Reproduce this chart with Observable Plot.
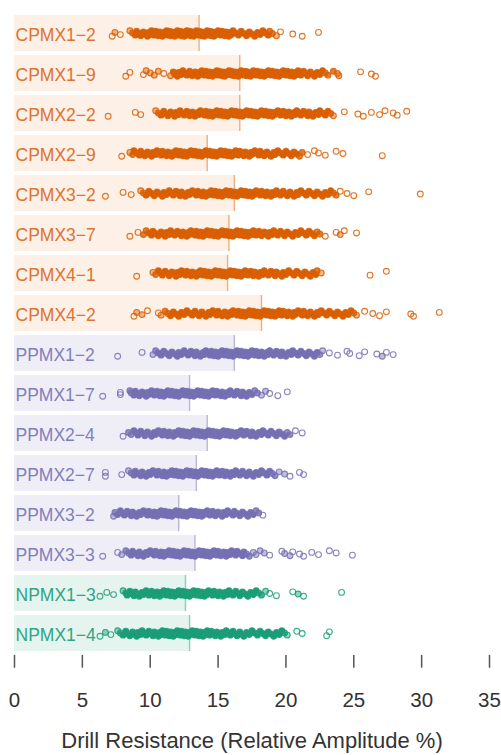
<!DOCTYPE html>
<html>
<head>
<meta charset="utf-8">
<script src="https://cdn.jsdelivr.net/npm/d3@7"></script>
<script src="https://cdn.jsdelivr.net/npm/@observablehq/plot@0.6"></script>
<style>
  html, body { margin: 0; padding: 0; background: #fff; }
  #chart { width: 501px; height: 755px; }
</style>
</head>
<body>
<div id="chart"></div>
<script>
// Specimens, top to bottom
const specimens = [
  "CPMX1−2", "CPMX1−9", "CPMX2−2", "CPMX2−9", "CPMX3−2", "CPMX3−7", "CPMX4−1", "CPMX4−2",
  "PPMX1−2", "PPMX1−7", "PPMX2−4", "PPMX2−7", "PPMX3−2", "PPMX3−3", "NPMX1−3", "NPMX1−4"
];

// Mean drill resistance per specimen (%)
const means = [13.6, 16.6, 16.6, 14.2, 16.2, 15.8, 15.7, 18.2, 16.2, 12.9, 14.2, 13.4, 12.1, 13.3, 12.6, 12.9];

// Group of each specimen prefix
const groups = ["CPMX", "PPMX", "NPMX"];
const groupColors = ["#d95f02", "#7570b3", "#1b9e77"];
const labelColors = ["#dd7330", "#827ebb", "#2ea584"];
const bandColors = ["#fdf0e6", "#efeef7", "#e6f4ef"];

// Drill resistance readings (relative amplitude %)
const CPMX1_2 = [7.2, 7.4, 7.8,
  8.5, 8.7, 8.9, 9.0, 9.2, 9.3, 9.5, 9.6, 9.8, 9.9, 10.0, 10.1, 10.2, 10.3, 10.4, 10.5, 10.6, 10.7, 10.8, 10.9, 11.0, 11.1, 11.2, 11.2, 11.3, 11.4, 11.5, 11.5, 11.6, 11.7, 11.8, 11.8, 11.9, 12.0, 12.0, 12.1, 12.2, 12.2, 12.3, 12.4, 12.4, 12.5, 12.6, 12.6, 12.7, 12.8, 12.8, 12.9, 13.0, 13.0, 13.1, 13.2, 13.2, 13.3, 13.4, 13.4, 13.5, 13.6, 13.6, 13.7, 13.8, 13.8, 13.9, 14.0, 14.0, 14.1, 14.2, 14.2, 14.3, 14.4, 14.4, 14.5, 14.6, 14.6, 14.7, 14.8, 14.9, 15.0, 15.1, 15.2, 15.3, 15.4, 15.5, 15.6, 15.7, 15.8, 15.9, 16.0, 16.1, 16.3, 16.5, 16.7, 16.9, 17.1, 17.3, 17.5, 17.7, 17.9, 18.1, 18.3, 18.5, 18.7, 18.8,
  19.0, 19.3, 19.6, 20.5, 21.2, 22.4];
const CPMX1_9 = [8.2, 8.5, 9.5, 9.7, 10.0, 10.3, 10.6, 11.0,
  11.5, 11.7, 11.8, 12.0, 12.1, 12.3, 12.4, 12.6, 12.7, 12.9, 13.0, 13.1, 13.3, 13.4, 13.5, 13.6, 13.7, 13.8, 13.9, 14.0, 14.1, 14.2, 14.3, 14.4, 14.5, 14.6, 14.7, 14.8, 14.9, 15.0, 15.0, 15.1, 15.2, 15.3, 15.4, 15.5, 15.5, 15.6, 15.7, 15.8, 15.9, 16.0, 16.0, 16.1, 16.2, 16.3, 16.4, 16.5, 16.5, 16.6, 16.7, 16.8, 16.9, 17.0, 17.0, 17.1, 17.2, 17.3, 17.4, 17.5, 17.5, 17.6, 17.7, 17.8, 17.9, 18.0, 18.1, 18.2, 18.3, 18.4, 18.5, 18.6, 18.7, 18.8, 18.9, 19.0, 19.1, 19.2, 19.3, 19.4, 19.5, 19.6, 19.7, 19.8, 19.9, 20.0, 20.1, 20.2, 20.3, 20.4, 20.5, 20.6, 20.7, 20.8, 20.9, 21.0, 21.1, 21.3, 21.5, 21.6, 21.8, 22.0, 22.1, 22.3, 22.5, 22.7, 22.9, 23.1,
  23.5, 23.8, 23.9, 25.5, 26.3, 26.6];
const CPMX2_2 = [6.9, 8.9, 9.3,
  10.4, 10.6, 10.8, 11.0, 11.1, 11.3, 11.5, 11.6, 11.8, 11.9, 12.1, 12.2, 12.4, 12.5, 12.7, 12.8, 12.9, 13.1, 13.2, 13.3, 13.5, 13.6, 13.7, 13.8, 14.0, 14.1, 14.2, 14.3, 14.4, 14.5, 14.6, 14.7, 14.8, 14.9, 15.0, 15.1, 15.2, 15.3, 15.4, 15.5, 15.6, 15.7, 15.8, 15.9, 16.0, 16.1, 16.2, 16.3, 16.4, 16.5, 16.6, 16.7, 16.8, 16.9, 17.0, 17.1, 17.2, 17.3, 17.4, 17.5, 17.6, 17.7, 17.8, 17.9, 18.0, 18.1, 18.2, 18.3, 18.4, 18.5, 18.6, 18.7, 18.8, 18.9, 19.0, 19.1, 19.2, 19.4, 19.5, 19.6, 19.8, 19.9, 20.0, 20.2, 20.3, 20.4, 20.6, 20.7, 20.8, 21.0, 21.1, 21.3, 21.4, 21.6, 21.7, 21.9, 22.0, 22.2, 22.4, 22.5, 22.7, 22.9, 23.1, 23.3, 23.5,
  24.3, 25.3, 25.7, 26.3, 26.9, 27.3, 27.9, 28.2, 28.9];
const CPMX2_9 = [7.9,
  8.5, 8.7, 8.8, 9.0, 9.2, 9.3, 9.5, 9.6, 9.8, 9.9, 10.1, 10.2, 10.4, 10.5, 10.7, 10.8, 10.9, 11.1, 11.2, 11.3, 11.5, 11.6, 11.7, 11.8, 11.9, 12.0, 12.1, 12.2, 12.3, 12.4, 12.5, 12.6, 12.7, 12.8, 12.9, 13.0, 13.1, 13.2, 13.3, 13.4, 13.5, 13.6, 13.7, 13.8, 13.9, 14.0, 14.1, 14.2, 14.3, 14.4, 14.5, 14.6, 14.7, 14.8, 14.9, 15.0, 15.1, 15.2, 15.3, 15.4, 15.5, 15.6, 15.7, 15.8, 15.9, 16.0, 16.1, 16.2, 16.3, 16.4, 16.5, 16.6, 16.7, 16.9, 17.0, 17.1, 17.3, 17.4, 17.5, 17.7, 17.8, 18.0, 18.1, 18.3, 18.4, 18.6, 18.7, 18.9, 19.1, 19.2, 19.4, 19.6, 19.8, 20.0, 20.2, 20.4, 20.6, 20.8, 21.0, 21.2,
  21.6, 22.1, 22.4, 22.9, 23.7, 24.2, 27.1];
const CPMX3_2 = [6.7, 8.0, 8.6,
  9.3, 9.5, 9.7, 9.9, 10.1, 10.3, 10.5, 10.7, 10.9, 11.0, 11.2, 11.4, 11.5, 11.7, 11.9, 12.0, 12.2, 12.3, 12.5, 12.6, 12.8, 12.9, 13.1, 13.2, 13.4, 13.5, 13.6, 13.8, 13.9, 14.0, 14.1, 14.3, 14.4, 14.5, 14.6, 14.7, 14.8, 14.9, 15.0, 15.1, 15.2, 15.3, 15.4, 15.5, 15.6, 15.7, 15.8, 15.9, 16.0, 16.1, 16.2, 16.3, 16.4, 16.5, 16.6, 16.7, 16.8, 16.9, 17.0, 17.1, 17.2, 17.3, 17.4, 17.5, 17.6, 17.7, 17.8, 17.9, 18.1, 18.2, 18.3, 18.5, 18.6, 18.7, 18.9, 19.0, 19.2, 19.3, 19.5, 19.6, 19.8, 19.9, 20.1, 20.3, 20.4, 20.6, 20.8, 20.9, 21.1, 21.3, 21.5, 21.7, 21.9, 22.1, 22.3, 22.5, 22.7, 22.9, 23.1, 23.3, 23.5, 23.7,
  24.0, 24.5, 25.0, 26.1, 29.9];
const CPMX3_7 = [8.5, 9.1,
  9.5, 9.7, 9.9, 10.1, 10.2, 10.4, 10.6, 10.8, 10.9, 11.1, 11.2, 11.4, 11.5, 11.7, 11.8, 12.0, 12.1, 12.3, 12.4, 12.5, 12.7, 12.8, 12.9, 13.0, 13.2, 13.3, 13.4, 13.5, 13.6, 13.7, 13.8, 13.9, 14.0, 14.1, 14.2, 14.3, 14.4, 14.5, 14.6, 14.7, 14.8, 14.9, 15.0, 15.1, 15.2, 15.3, 15.4, 15.5, 15.6, 15.7, 15.8, 15.9, 16.0, 16.1, 16.2, 16.3, 16.4, 16.5, 16.6, 16.7, 16.8, 16.9, 17.0, 17.1, 17.2, 17.3, 17.5, 17.6, 17.7, 17.8, 18.0, 18.1, 18.2, 18.4, 18.5, 18.7, 18.8, 19.0, 19.1, 19.3, 19.4, 19.6, 19.8, 19.9, 20.1, 20.3, 20.5, 20.7, 20.9, 21.1, 21.3, 21.5, 21.7, 21.9, 22.1, 22.3, 22.5,
  22.9, 23.7, 24.0, 24.3, 25.2];
const CPMX4_1 = [9.0,
  10.2, 10.4, 10.6, 10.8, 10.9, 11.1, 11.3, 11.4, 11.6, 11.7, 11.9, 12.0, 12.2, 12.3, 12.5, 12.6, 12.7, 12.9, 13.0, 13.1, 13.2, 13.4, 13.5, 13.6, 13.7, 13.8, 13.9, 14.0, 14.1, 14.2, 14.3, 14.4, 14.5, 14.6, 14.7, 14.8, 14.9, 15.0, 15.1, 15.2, 15.3, 15.4, 15.5, 15.6, 15.7, 15.8, 15.9, 16.0, 16.1, 16.2, 16.3, 16.4, 16.5, 16.6, 16.7, 16.8, 16.9, 17.0, 17.1, 17.2, 17.4, 17.5, 17.6, 17.7, 17.9, 18.0, 18.1, 18.3, 18.4, 18.6, 18.7, 18.9, 19.0, 19.2, 19.3, 19.5, 19.7, 19.8, 20.0, 20.2, 20.4, 20.6, 20.8, 21.0, 21.2, 21.4, 21.6, 21.8, 22.0, 22.2, 22.3,
  22.6, 26.2, 27.4];
const CPMX4_2 = [8.8, 9.0, 9.4, 9.8, 10.6, 10.8,
  11.1, 11.3, 11.5, 11.7, 11.9, 12.1, 12.3, 12.5, 12.7, 12.9, 13.1, 13.3, 13.4, 13.6, 13.8, 13.9, 14.1, 14.3, 14.4, 14.6, 14.7, 14.9, 15.0, 15.2, 15.3, 15.5, 15.6, 15.7, 15.9, 16.0, 16.1, 16.3, 16.4, 16.5, 16.6, 16.7, 16.8, 16.9, 17.0, 17.1, 17.2, 17.3, 17.4, 17.5, 17.6, 17.7, 17.8, 17.9, 18.0, 18.1, 18.2, 18.3, 18.4, 18.5, 18.6, 18.7, 18.8, 18.9, 19.0, 19.1, 19.2, 19.3, 19.4, 19.5, 19.6, 19.7, 19.8, 19.9, 20.1, 20.2, 20.3, 20.5, 20.6, 20.7, 20.9, 21.0, 21.2, 21.3, 21.5, 21.6, 21.8, 21.9, 22.1, 22.3, 22.4, 22.6, 22.8, 23.0, 23.2, 23.4, 23.6, 23.8, 24.0, 24.2, 24.4, 24.6, 24.8, 25.0, 25.2,
  25.8, 26.4, 26.9, 27.4, 29.2, 29.4, 31.3];
const PPMX1_2 = [7.6, 9.4,
  10.2, 10.4, 10.6, 10.8, 11.0, 11.2, 11.4, 11.6, 11.8, 12.0, 12.1, 12.3, 12.5, 12.6, 12.8, 13.0, 13.1, 13.3, 13.4, 13.6, 13.7, 13.9, 14.0, 14.1, 14.3, 14.4, 14.5, 14.6, 14.7, 14.8, 14.9, 15.0, 15.1, 15.2, 15.3, 15.4, 15.5, 15.6, 15.7, 15.8, 15.9, 16.0, 16.1, 16.2, 16.3, 16.4, 16.5, 16.6, 16.7, 16.8, 16.9, 17.0, 17.1, 17.2, 17.3, 17.4, 17.5, 17.6, 17.7, 17.8, 17.9, 18.0, 18.2, 18.3, 18.4, 18.6, 18.7, 18.8, 19.0, 19.1, 19.3, 19.4, 19.6, 19.7, 19.9, 20.0, 20.2, 20.4, 20.5, 20.7, 20.9, 21.1, 21.3, 21.5, 21.7, 21.9, 22.1, 22.3, 22.5, 22.7,
  23.2, 23.8, 24.5, 24.7, 25.4, 25.8, 26.7, 27.1, 27.4, 27.9];
const PPMX1_7 = [6.5, 7.8, 7.8,
  8.5, 8.6, 8.8, 8.9, 9.1, 9.2, 9.4, 9.5, 9.7, 9.8, 9.9, 10.1, 10.2, 10.3, 10.5, 10.6, 10.7, 10.8, 10.9, 11.0, 11.1, 11.2, 11.3, 11.4, 11.5, 11.6, 11.7, 11.8, 11.9, 12.0, 12.1, 12.2, 12.3, 12.4, 12.5, 12.6, 12.7, 12.8, 12.9, 13.0, 13.1, 13.2, 13.3, 13.4, 13.5, 13.6, 13.7, 13.8, 13.9, 14.0, 14.1, 14.2, 14.3, 14.4, 14.5, 14.6, 14.7, 14.8, 14.9, 15.0, 15.2, 15.3, 15.4, 15.5, 15.7, 15.8, 15.9, 16.1, 16.2, 16.4, 16.5, 16.7, 16.8, 17.0, 17.1, 17.3, 17.5, 17.7, 17.9,
  18.2, 18.5, 18.8, 19.4, 20.1];
const PPMX2_4 = [8.0,
  8.4, 8.6, 8.8, 9.0, 9.1, 9.3, 9.5, 9.6, 9.8, 10.0, 10.1, 10.3, 10.4, 10.6, 10.7, 10.9, 11.0, 11.2, 11.3, 11.4, 11.6, 11.7, 11.8, 11.9, 12.1, 12.2, 12.3, 12.4, 12.5, 12.6, 12.7, 12.8, 12.9, 13.0, 13.1, 13.2, 13.3, 13.4, 13.5, 13.6, 13.7, 13.8, 13.9, 14.0, 14.1, 14.2, 14.3, 14.4, 14.5, 14.6, 14.7, 14.8, 14.9, 15.0, 15.1, 15.2, 15.3, 15.4, 15.5, 15.6, 15.7, 15.8, 15.9, 16.0, 16.2, 16.3, 16.4, 16.5, 16.7, 16.8, 16.9, 17.1, 17.2, 17.4, 17.5, 17.7, 17.8, 18.0, 18.2, 18.3, 18.5, 18.7, 18.9, 19.1, 19.3, 19.5, 19.7, 19.9, 20.1,
  20.3, 20.7, 21.2];
const PPMX2_7 = [6.7, 6.7, 7.9,
  8.4, 8.6, 8.8, 8.9, 9.1, 9.3, 9.4, 9.6, 9.7, 9.9, 10.0, 10.2, 10.3, 10.5, 10.6, 10.7, 10.9, 11.0, 11.1, 11.2, 11.4, 11.5, 11.6, 11.7, 11.8, 11.9, 12.0, 12.1, 12.2, 12.3, 12.4, 12.5, 12.6, 12.7, 12.8, 12.9, 13.0, 13.1, 13.2, 13.3, 13.4, 13.5, 13.6, 13.7, 13.8, 13.9, 14.0, 14.1, 14.2, 14.3, 14.4, 14.5, 14.6, 14.7, 14.8, 14.9, 15.0, 15.1, 15.3, 15.4, 15.5, 15.6, 15.8, 15.9, 16.0, 16.2, 16.3, 16.5, 16.6, 16.8, 16.9, 17.1, 17.3, 17.4, 17.6, 17.8, 18.0, 18.2, 18.4, 18.6, 18.8, 19.0, 19.2,
  19.5, 19.9, 20.3, 21.0, 21.3];
const PPMX3_2 = [7.3,
  7.4, 7.6, 7.8, 7.9, 8.1, 8.3, 8.4, 8.6, 8.7, 8.9, 9.0, 9.2, 9.3, 9.5, 9.6, 9.8, 9.9, 10.0, 10.2, 10.3, 10.4, 10.5, 10.6, 10.7, 10.8, 10.9, 11.0, 11.1, 11.2, 11.3, 11.4, 11.5, 11.6, 11.7, 11.8, 11.9, 12.0, 12.1, 12.2, 12.3, 12.4, 12.5, 12.6, 12.7, 12.8, 12.9, 13.0, 13.1, 13.2, 13.3, 13.4, 13.5, 13.6, 13.7, 13.8, 13.9, 14.0, 14.2, 14.3, 14.4, 14.6, 14.7, 14.8, 15.0, 15.1, 15.3, 15.4, 15.6, 15.7, 15.9, 16.1, 16.2, 16.4, 16.6, 16.8, 17.0, 17.2, 17.4, 17.6, 17.8,
  18.0, 18.3];
const PPMX3_3 = [6.5, 7.6, 7.9,
  8.2, 8.4, 8.6, 8.7, 8.9, 9.1, 9.2, 9.4, 9.5, 9.7, 9.8, 10.0, 10.1, 10.3, 10.4, 10.5, 10.7, 10.8, 10.9, 11.0, 11.1, 11.3, 11.4, 11.5, 11.6, 11.7, 11.8, 11.9, 12.0, 12.1, 12.2, 12.3, 12.4, 12.5, 12.6, 12.7, 12.8, 12.9, 13.0, 13.1, 13.2, 13.3, 13.4, 13.5, 13.6, 13.7, 13.8, 13.9, 14.0, 14.1, 14.2, 14.3, 14.4, 14.5, 14.6, 14.7, 14.8, 14.9, 15.0, 15.1, 15.2, 15.4, 15.5, 15.6, 15.7, 15.9, 16.0, 16.1, 16.3, 16.4, 16.6, 16.8, 16.9, 17.1, 17.3, 17.6, 17.8, 18.1, 18.4, 18.8,
  19.7, 19.9, 20.3, 20.5, 21.0, 21.3, 21.9, 22.4, 23.2, 23.7, 24.9];
const NPMX1_3 = [6.3, 6.8, 7.3,
  8.0, 8.2, 8.3, 8.5, 8.6, 8.8, 8.9, 9.1, 9.2, 9.4, 9.5, 9.7, 9.8, 9.9, 10.1, 10.2, 10.3, 10.5, 10.6, 10.7, 10.8, 10.9, 11.0, 11.1, 11.2, 11.3, 11.4, 11.5, 11.6, 11.7, 11.8, 11.9, 12.0, 12.1, 12.2, 12.3, 12.4, 12.5, 12.6, 12.7, 12.8, 12.9, 13.0, 13.1, 13.2, 13.3, 13.4, 13.5, 13.6, 13.7, 13.8, 13.9, 14.0, 14.1, 14.2, 14.3, 14.5, 14.6, 14.7, 14.8, 15.0, 15.1, 15.2, 15.4, 15.5, 15.7, 15.8, 16.0, 16.1, 16.3, 16.5, 16.6, 16.8, 17.0, 17.2, 17.4, 17.6, 17.8, 18.0, 18.2, 18.5, 18.8,
  19.3, 20.5, 20.9, 21.3, 24.1];
const NPMX1_4 = [6.3, 6.7, 7.1,
  7.6, 7.8, 8.0, 8.2, 8.3, 8.5, 8.7, 8.8, 9.0, 9.1, 9.3, 9.4, 9.6, 9.7, 9.9, 10.0, 10.2, 10.3, 10.4, 10.6, 10.7, 10.8, 10.9, 11.0, 11.1, 11.2, 11.3, 11.4, 11.5, 11.6, 11.7, 11.8, 11.9, 12.0, 12.1, 12.2, 12.3, 12.4, 12.5, 12.6, 12.7, 12.8, 12.9, 13.0, 13.1, 13.2, 13.3, 13.4, 13.5, 13.6, 13.7, 13.8, 13.9, 14.0, 14.1, 14.2, 14.3, 14.4, 14.5, 14.7, 14.8, 14.9, 15.1, 15.2, 15.3, 15.5, 15.6, 15.8, 15.9, 16.1, 16.2, 16.4, 16.6, 16.7, 16.9, 17.1, 17.3, 17.5, 17.7, 17.9, 18.1, 18.3, 18.5, 18.7, 18.9, 19.1, 19.3, 19.5, 19.7, 19.9, 20.1,
  20.8, 21.2, 23.0, 23.2];

const readings = [CPMX1_2, CPMX1_9, CPMX2_2, CPMX2_9, CPMX3_2, CPMX3_7, CPMX4_1, CPMX4_2,
  PPMX1_2, PPMX1_7, PPMX2_4, PPMX2_7, PPMX3_2, PPMX3_3, NPMX1_3, NPMX1_4];

const xTicks = [0, 5, 10, 15, 20, 25, 30, 35];

// One row per specimen, and one point per reading
const groupOf = (name) => groups.findIndex((g) => name.startsWith(g));
const rows = specimens.map((name, i) => ({name, mean: means[i], g: groupOf(name)}));
const points = specimens.flatMap((name, i) => {
  const vals = readings[i];
  return vals.map((v, k) => {
    // how crowded this reading is: overplotted readings merge into a solid strip
    const crowd = vals.filter((w) => Math.abs(w - v) < 0.45).length;
    return {
      name,
      value: v,
      g: groupOf(name),
      fillOpacity: crowd >= 5 ? 1 : crowd >= 4 ? 0.8 : crowd >= 3 ? 0.45 : 0,
      // spread the readings vertically inside the strip so they stay visible
      jitter: ((k * 7) % 11) / 5 - 1
    };
  });
});
const lastRow = specimens[specimens.length - 1];

const font = "'Liberation Sans', Arial, Helvetica, sans-serif";

const chart = Plot.plot({
  width: 501,
  height: 755,
  marginLeft: 14,
  marginRight: 12,
  marginTop: 9,
  marginBottom: 99,
  style: {fontFamily: font, background: "#fff"},
  x: {domain: [0, 35]},
  y: {domain: [-6.5, 6.5], axis: null},
  fy: {domain: specimens, paddingInner: 0.1, paddingOuter: 0, axis: null, label: null},
  marks: [
    // shaded band from zero to the specimen mean
    Plot.barX(rows, {fy: "name", x1: 0, x2: "mean", fill: (d) => bandColors[d.g]}),
    Plot.text(rows, {
      fy: "name", x: 0, dx: 1, dy: 1.5, text: "name", textAnchor: "start",
      fill: (d) => labelColors[d.g], fontSize: 17.5
    }),
    Plot.dot(points, {
      fy: "name", x: "value", y: "jitter", r: 2.9,
      stroke: (d) => groupColors[d.g], strokeWidth: 1.1, strokeOpacity: 0.85,
      fill: (d) => groupColors[d.g], fillOpacity: "fillOpacity"
    }),
    // mean marker
    Plot.ruleX(rows, {fy: "name", x: "mean", stroke: (d) => groupColors[d.g], strokeOpacity: 0.5, strokeWidth: 1.4}),
    // x-axis ticks, hung just below the last strip
    Plot.ruleX(xTicks, {x: (d) => d, fy: () => lastRow, y1: -7.92, y2: -12.54, stroke: "#555", strokeWidth: 1.5}),
    // tick labels
    Plot.axisX({ticks: xTicks, tickSize: 0, tickPadding: 41, fontSize: 20.5, color: "#333", label: null}),
    // axis title
    Plot.axisX({
      ticks: [], tickSize: 0, fontSize: 22, color: "#333",
      label: "Drill Resistance (Relative Amplitude %)", labelAnchor: "center", labelArrow: "none", labelOffset: 96
    })
  ]
});

document.getElementById("chart").appendChild(chart);
</script>
</body>
</html>
